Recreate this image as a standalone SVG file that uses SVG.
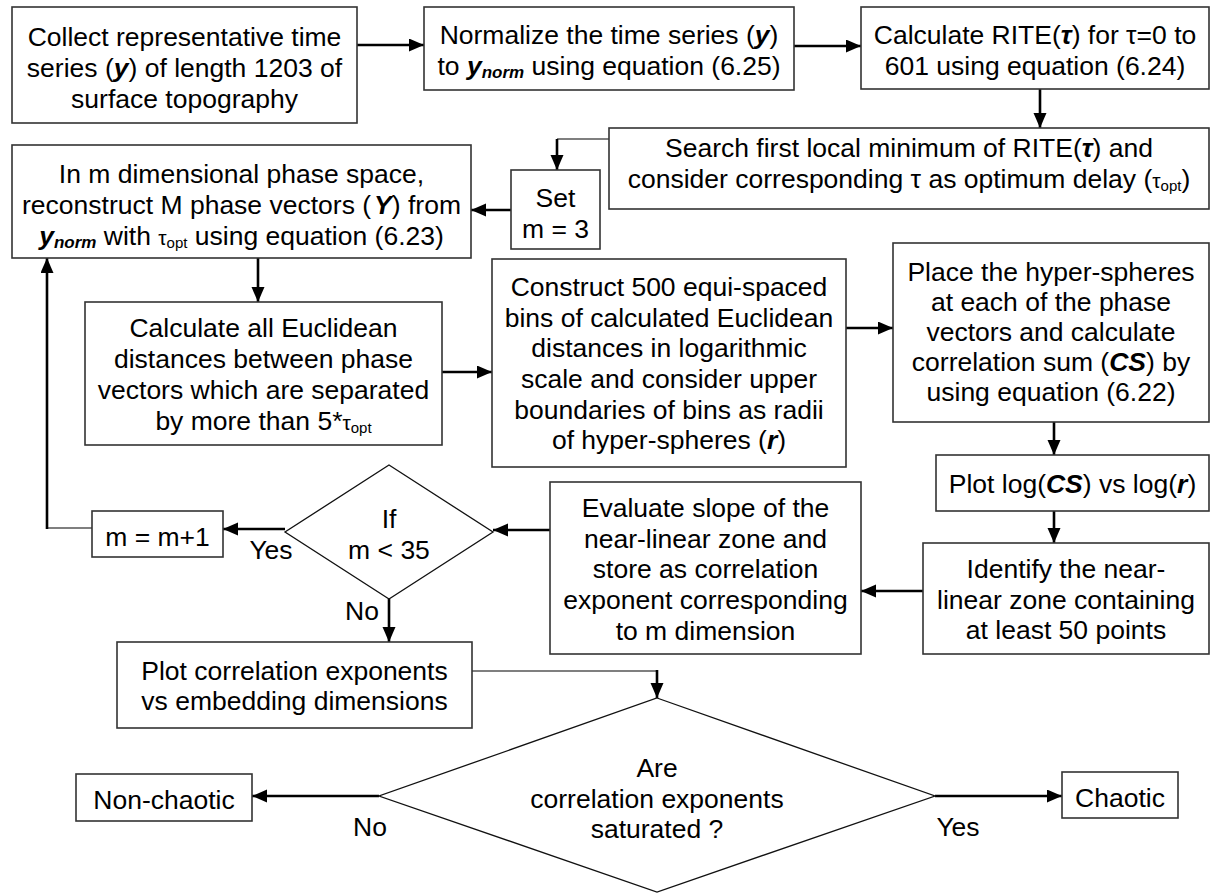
<svg xmlns="http://www.w3.org/2000/svg" width="1211" height="893" viewBox="0 0 1211 893">
  <style>
    .box { fill: #ffffff; stroke: #333333; stroke-width: 1.6; }
    .dia { fill: #ffffff; stroke: #111111; stroke-width: 1.3; }
    text { font-family: "Liberation Sans", Arial, sans-serif; font-size: 26.5px; fill: #000000; text-anchor: middle; }
    .bi { font-weight: bold; font-style: italic; }
    .sub { font-size: 17px; }
    .tau { font-size: 21px; }
    .opt { font-size: 15px; }
    .thick { fill: none; stroke: #000000; stroke-width: 2.6; }
    .thin { fill: none; stroke: #000000; stroke-width: 1.2; }
  </style>
  <defs>
    <marker id="ah" markerUnits="userSpaceOnUse" markerWidth="16" markerHeight="14" refX="15" refY="6.5" orient="auto">
      <path d="M0,0 L15,6.5 L0,13 z" fill="#000000"/>
    </marker>
  </defs>

  <rect width="1211" height="893" fill="#ffffff"/>

  <!-- connectors -->
  <g id="connectors">
    <line class="thick" x1="357" y1="45" x2="424" y2="45" marker-end="url(#ah)"/>
    <line class="thick" x1="794" y1="46" x2="861" y2="46" marker-end="url(#ah)"/>
    <line class="thick" x1="1040" y1="89" x2="1040" y2="128" marker-end="url(#ah)"/>
    <polyline class="thin" points="609,139 557,139"/>
    <line class="thick" x1="557" y1="139" x2="557" y2="170" marker-end="url(#ah)"/>
    <line class="thick" x1="511" y1="210" x2="471" y2="210" marker-end="url(#ah)"/>
    <line class="thick" x1="258" y1="258" x2="258" y2="302" marker-end="url(#ah)"/>
    <line class="thick" x1="442" y1="372" x2="492" y2="372" marker-end="url(#ah)"/>
    <line class="thick" x1="846" y1="328" x2="893" y2="328" marker-end="url(#ah)"/>
    <line class="thick" x1="1054" y1="422" x2="1054" y2="455" marker-end="url(#ah)"/>
    <line class="thick" x1="1054" y1="511" x2="1054" y2="543" marker-end="url(#ah)"/>
    <line class="thick" x1="923" y1="591" x2="861" y2="591" marker-end="url(#ah)"/>
    <line class="thick" x1="550" y1="530" x2="493" y2="530" marker-end="url(#ah)"/>
    <line class="thick" x1="285" y1="529" x2="223" y2="529" marker-end="url(#ah)"/>
    <polyline class="thin" points="92,528 47,528"/>
    <line class="thick" x1="47" y1="529" x2="47" y2="258" marker-end="url(#ah)"/>
    <line class="thick" x1="389" y1="599" x2="389" y2="642" marker-end="url(#ah)"/>
    <polyline class="thin" points="472,671 657,671"/>
    <line class="thick" x1="657" y1="670" x2="657" y2="698" marker-end="url(#ah)"/>
    <line class="thick" x1="379" y1="796" x2="252" y2="796" marker-end="url(#ah)"/>
    <line class="thick" x1="935" y1="796" x2="1062" y2="796" marker-end="url(#ah)"/>
    <text x="271" y="559">Yes</text>
    <text x="362" y="620">No</text>
    <text x="370" y="836">No</text>
    <text x="958" y="836">Yes</text>
  </g>

  <g id="collect">
    <rect class="box" x="12" y="7" width="345" height="116"/>
    <text x="184.5" y="46">Collect representative time</text>
    <text x="184.5" y="77">series (<tspan class="bi">y</tspan>) of length 1203 of</text>
    <text x="184.5" y="108">surface topography</text>
  </g>

  <g id="normalize">
    <rect class="box" x="424" y="7" width="370" height="83"/>
    <text x="609" y="44">Normalize the time series (<tspan class="bi">y</tspan>)</text>
    <text x="609" y="75">to <tspan class="bi">y</tspan><tspan class="bi sub" dy="3">norm</tspan><tspan dy="-3"> using equation (6.25)</tspan></text>
  </g>

  <g id="rite">
    <rect class="box" x="861" y="7" width="348" height="82"/>
    <text x="1035" y="44">Calculate RITE(<tspan class="bi">τ</tspan>) for τ=0 to</text>
    <text x="1035" y="75">601 using equation (6.24)</text>
  </g>

  <g id="search">
    <rect class="box" x="609" y="128" width="600" height="81"/>
    <text x="909" y="157">Search first local minimum of RITE(<tspan class="bi">τ</tspan>) and</text>
    <text x="909" y="188">consider corresponding τ as optimum delay (<tspan class="tau">τ</tspan><tspan class="opt" dy="3">opt</tspan><tspan dy="-3">)</tspan></text>
  </g>

  <g id="set-m">
    <rect class="box" x="511" y="170" width="89" height="79"/>
    <text x="555.5" y="207">Set</text>
    <text x="555.5" y="238">m = 3</text>
  </g>

  <g id="reconstruct">
    <rect class="box" x="12" y="145" width="459" height="113"/>
    <text x="241.5" y="183">In m dimensional phase space,</text>
    <text x="241.5" y="214">reconstruct M phase vectors (<tspan class="bi" dx="3">Y</tspan>) from</text>
    <text x="241.5" y="245"><tspan class="bi">y</tspan><tspan class="bi sub" dy="3">norm</tspan><tspan dy="-3"> with </tspan><tspan class="tau">τ</tspan><tspan class="opt" dy="3">opt</tspan><tspan dy="-3"> using equation (6.23)</tspan></text>
  </g>

  <g id="distances">
    <rect class="box" x="85" y="302" width="357" height="143"/>
    <text x="263.5" y="337">Calculate all Euclidean</text>
    <text x="263.5" y="368">distances between phase</text>
    <text x="263.5" y="399">vectors which are separated</text>
    <text x="263.5" y="430">by more than 5*<tspan class="tau">τ</tspan><tspan class="opt" dy="3">opt</tspan></text>
  </g>

  <g id="bins">
    <rect class="box" x="492" y="259" width="354" height="208"/>
    <text x="669" y="296">Construct 500 equi-spaced</text>
    <text x="669" y="327">bins of calculated Euclidean</text>
    <text x="669" y="357">distances in logarithmic</text>
    <text x="669" y="388">scale and consider upper</text>
    <text x="669" y="419">boundaries of bins as radii</text>
    <text x="669" y="449">of hyper-spheres (<tspan class="bi">r</tspan>)</text>
  </g>

  <g id="hyperspheres">
    <rect class="box" x="893" y="243" width="316" height="179"/>
    <text x="1051" y="281">Place the hyper-spheres</text>
    <text x="1051" y="311">at each of the phase</text>
    <text x="1051" y="341">vectors and calculate</text>
    <text x="1051" y="371">correlation sum (<tspan class="bi">CS</tspan>) by</text>
    <text x="1051" y="401">using equation (6.22)</text>
  </g>

  <g id="plot-log">
    <rect class="box" x="936" y="455" width="273" height="56"/>
    <text x="1072.5" y="493">Plot log(<tspan class="bi">CS</tspan>) vs log(<tspan class="bi">r</tspan>)</text>
  </g>

  <g id="identify">
    <rect class="box" x="923" y="543" width="286" height="111"/>
    <text x="1066" y="578">Identify the near-</text>
    <text x="1066" y="609">linear zone containing</text>
    <text x="1066" y="639">at least 50 points</text>
  </g>

  <g id="evaluate">
    <rect class="box" x="550" y="482" width="311" height="172"/>
    <text x="705.5" y="517">Evaluate slope of the</text>
    <text x="705.5" y="548">near-linear zone and</text>
    <text x="705.5" y="578">store as correlation</text>
    <text x="705.5" y="609">exponent corresponding</text>
    <text x="705.5" y="640">to m dimension</text>
  </g>

  <g id="if-m">
    <polygon class="dia" points="389,465 493,532 389,599 285,532"/>
    <text x="389" y="528">If</text>
    <text x="389" y="559">m &lt; 35</text>
  </g>

  <g id="increment-m">
    <rect class="box" x="92" y="511" width="131" height="46"/>
    <text x="157.5" y="546">m = m+1</text>
  </g>

  <g id="plot-exponents">
    <rect class="box" x="117" y="642" width="355" height="86"/>
    <text x="294.5" y="680">Plot correlation exponents</text>
    <text x="294.5" y="710">vs embedding dimensions</text>
  </g>

  <g id="saturated">
    <polygon class="dia" points="657,698 935,796 657,892 379,796"/>
    <text x="657" y="777">Are</text>
    <text x="657" y="808">correlation exponents</text>
    <text x="657" y="838">saturated ?</text>
  </g>

  <g id="non-chaotic">
    <rect class="box" x="76" y="774" width="176" height="47"/>
    <text x="164" y="809">Non-chaotic</text>
  </g>

  <g id="chaotic">
    <rect class="box" x="1062" y="772" width="116" height="46"/>
    <text x="1120" y="807">Chaotic</text>
  </g>
</svg>
